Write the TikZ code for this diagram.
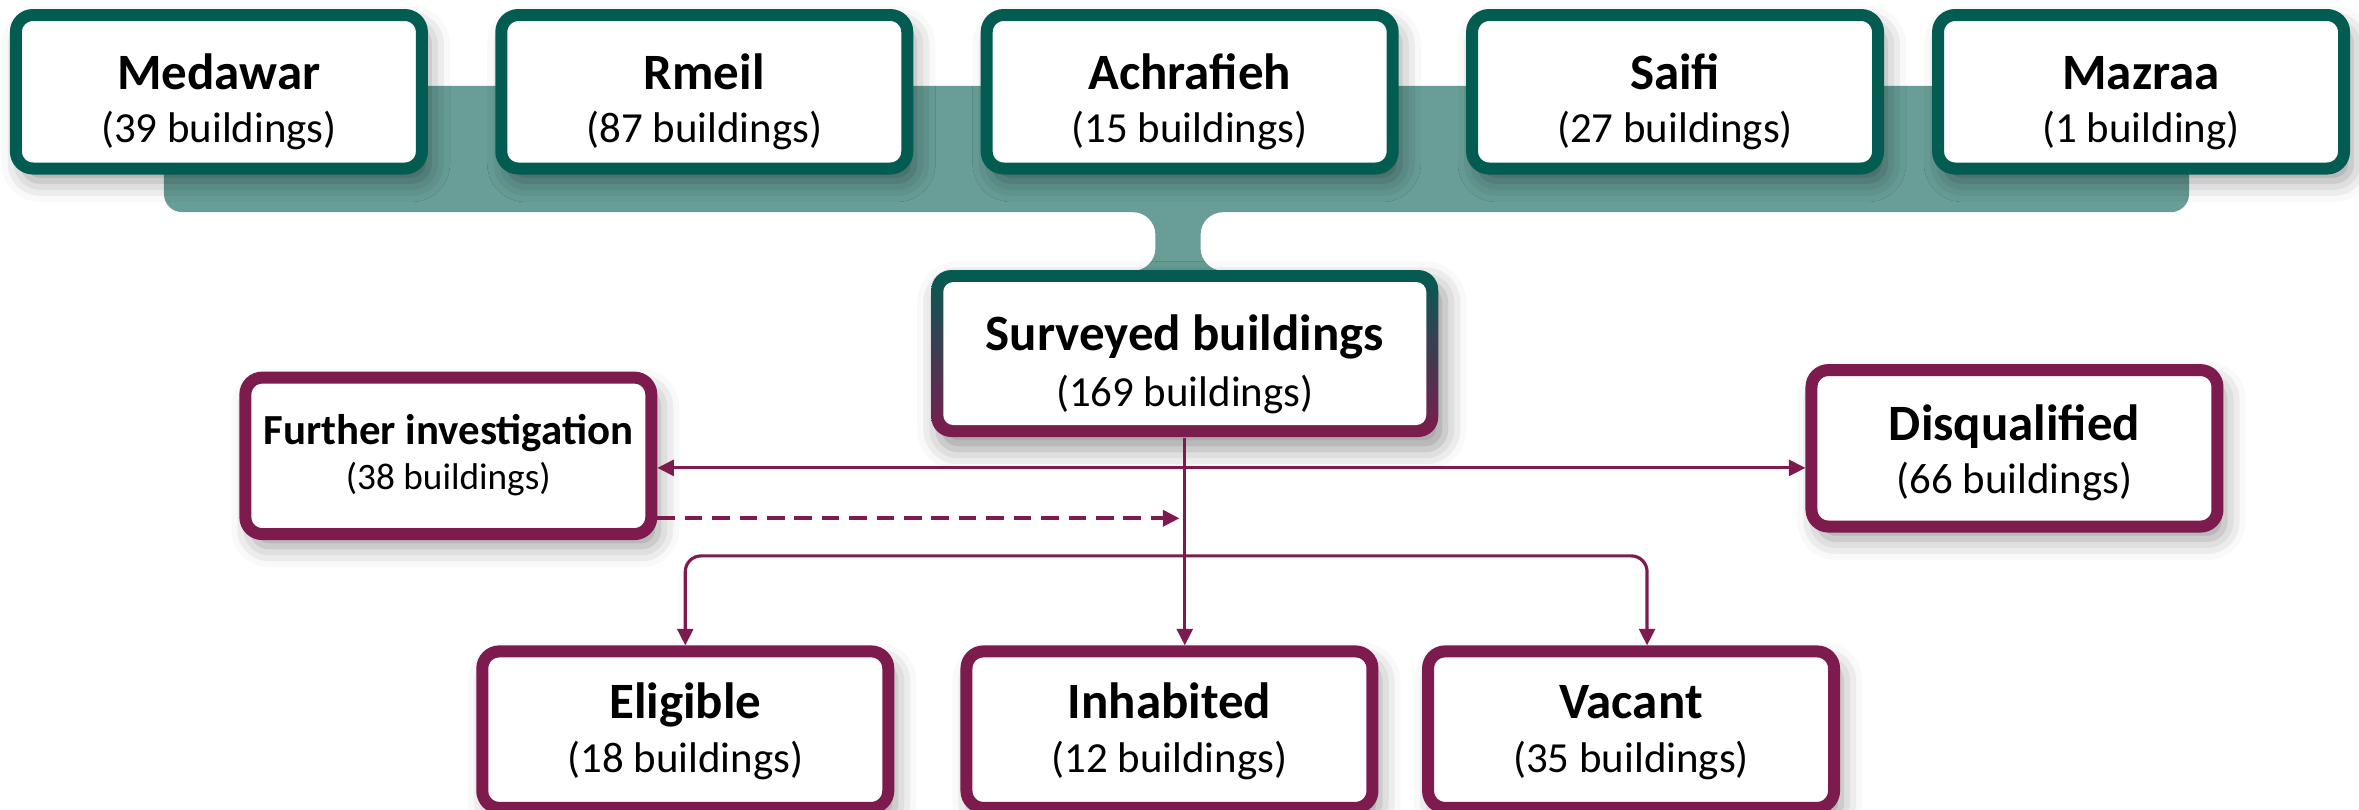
\documentclass[tikz,border=0pt]{standalone}
\usepackage{fontspec}
\setmainfont{Carlito}
\usetikzlibrary{positioning,arrows.meta,shadows.blur}

\definecolor{tealdark}{HTML}{035C52}
\definecolor{tealband}{HTML}{689E97}
\definecolor{plum}{HTML}{7D1B4F}

\newcommand{\boxhead}{\bfseries\fontsize{14.5}{15.2}\selectfont}

\tikzset{
  softshadow/.style={blur shadow={shadow xshift=2pt, shadow yshift=-3.5pt,
      shadow blur radius=6pt, shadow opacity=40}},
  district/.style={draw=tealdark, line width=0.12cm, fill=white, rounded corners=0.17cm,
      minimum width=4.06cm, minimum height=1.535cm, inner sep=0pt, align=center,
      font=\fontsize{12.2}{15.2}\selectfont, text height=32pt, text depth=3pt, softshadow},
  outcome/.style={district, draw=plum, minimum height=1.565cm, text height=27.2pt},
  hub/.style={top color=tealdark, bottom color=plum, rounded corners=0.2cm,
      minimum width=5.07cm, minimum height=1.67cm, inner sep=0pt, align=center,
      font=\fontsize{12.2}{16}\selectfont, text height=33.3pt, text depth=3pt, softshadow,
      path picture={\fill[white, rounded corners=0.1cm]
        ([shift={(0.12cm,-0.12cm)}]path picture bounding box.north west) rectangle
        ([shift={(-0.12cm,0.12cm)}]path picture bounding box.south east);}},
  flow/.style={draw=plum, line width=0.9pt, -{Triangle[length=4.7pt,width=4.5pt]}},
}

\begin{document}
\begin{tikzpicture}[x=0.015045cm, y=-0.015045cm]
  \useasboundingbox (0,0) rectangle (1568,538);

  % band joining the districts
  \fill[tealband, rounded corners=0.18cm] (109,57) rectangle (1455,141);
  \fill[tealband] (753,138) -- (753,141) arc[start angle=-90, end angle=0, radius=15]
    -- (768,165) arc[start angle=0, end angle=90, radius=15]
    -- (753,186) -- (813,186) -- (813,180) arc[start angle=90, end angle=180, radius=15]
    -- (798,156) arc[start angle=180, end angle=270, radius=15] -- (813,138) -- cycle;

  % districts
  \node[district] (med) at (145.5,61) {{\boxhead Medawar}\\(39 buildings)};
  \node[district, right=0.674cm of med] (rme) {{\boxhead Rmeil}\\(87 buildings)};
  \node[district, right=0.674cm of rme] (ach) {{\boxhead Achrafieh}\\(15 buildings)};
  \node[district, right=0.674cm of ach] (sai) {{\boxhead Saifi}\\(27 buildings)};
  \node[district, right=0.48cm of sai] (maz) {{\boxhead Mazraa}\\(1 building)};

  \node[hub] (surv) at (787.5,235) {{\boxhead Surveyed buildings}\\(169 buildings)};

  \node[outcome, font=\fontsize{10.6}{12.8}\selectfont, text height=22pt]
    (furt) at (298,303) {{\bfseries\fontsize{12.2}{12.8}\selectfont Further investigation}\\(38 buildings)};
  \node[outcome, text height=28.7pt] (disq) at (1339,298) {{\boxhead Disqualified}\\(66 buildings)};

  \node[outcome] (elig) at (455.5,485) {{\boxhead Eligible}\\(18 buildings)};
  \node[outcome, right=0.662cm of elig] (inhab) {{\boxhead Inhabited}\\(12 buildings)};
  \node[outcome, right=0.436cm of inhab] (vac) {{\boxhead Vacant}\\(35 buildings)};

  % connectors
  \coordinate (split) at (787.5,311);
  \coordinate (merge) at (784,344.5);
  \coordinate (fork) at (787.5,369.5);
  \draw[flow] (surv.south) -- (surv.south |- inhab.north);
  \draw[flow] (split) -- (split -| furt.east);
  \draw[flow] (split) -- (split -| disq.west);
  \draw[flow, line width=1.1pt, dash pattern=on 5pt off 2.8pt] (furt.east |- merge) -- (merge);
  \draw[flow, rounded corners=4.5pt] (fork) -| (elig.north);
  \draw[flow, rounded corners=4.5pt] (fork) -| ([xshift=0.16cm]vac.north);
\end{tikzpicture}
\end{document}
